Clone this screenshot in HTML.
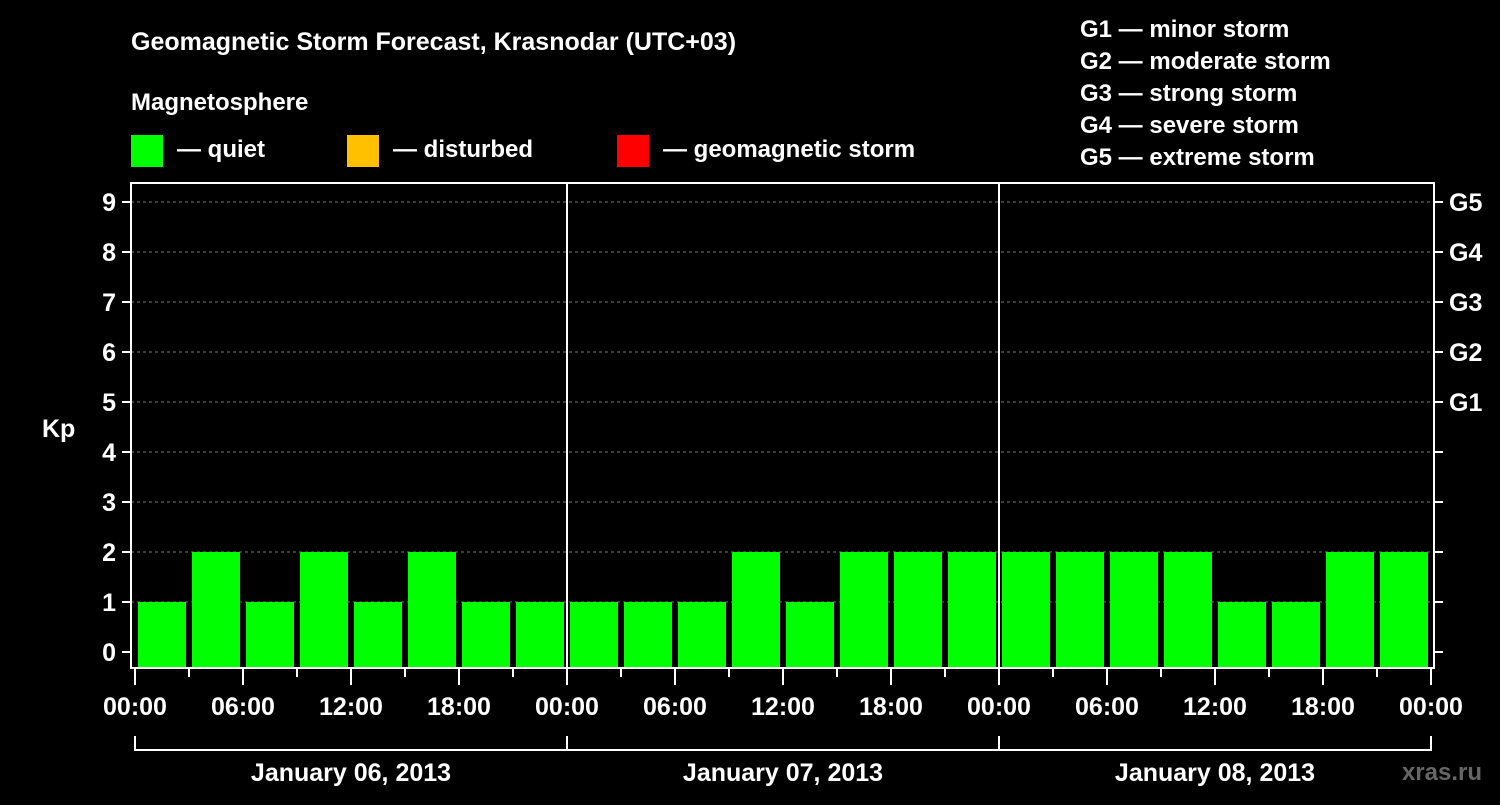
<!DOCTYPE html>
<html><head><meta charset="utf-8"><style>
body{margin:0;background:#000;width:1500px;height:800px;overflow:hidden;font-family:"Liberation Sans",Arial,sans-serif;}
svg text{font-family:"Liberation Sans",Arial,sans-serif;font-weight:bold;fill:#fff;}
</style></head><body>
<svg id="chart" width="1500" height="800">
<text x="131" y="50" font-size="25">Geomagnetic Storm Forecast, Krasnodar (UTC+03)</text>
<text x="131" y="110" font-size="24">Magnetosphere</text>
<g><rect x="131" y="135" width="32" height="32" fill="#00ff00"/><text x="177" y="157" font-size="24">— quiet</text></g>
<g><rect x="347" y="135" width="32" height="32" fill="#ffc000"/><text x="393" y="157" font-size="24">— disturbed</text></g>
<g><rect x="617" y="135" width="32" height="32" fill="#ff0000"/><text x="663" y="157" font-size="24">— geomagnetic storm</text></g>
<g font-size="24">
<text x="1080" y="37">G1 — minor storm</text>
<text x="1080" y="69">G2 — moderate storm</text>
<text x="1080" y="101">G3 — strong storm</text>
<text x="1080" y="133">G4 — severe storm</text>
<text x="1080" y="165">G5 — extreme storm</text>
</g>
<text x="42" y="437" font-size="25">Kp</text>
<text x="1500" y="780" font-size="24" fill="#555" style="fill:#666" text-anchor="end" dx="-18">xras.ru</text>
<g id="plot"></g>
</svg>
<script>
const kpValues=[1,2,1,2,1,2,1,1, 1,1,1,2,1,2,2,2, 2,2,2,2,1,1,2,2];
const dayLabels=["January 06, 2013","January 07, 2013","January 08, 2013"];
const hourLabels=["00:00","06:00","12:00","18:00"];
const yTicks=[0,1,2,3,4,5,6,7,8,9];
const gLabels=[[5,"G1"],[6,"G2"],[7,"G3"],[8,"G4"],[9,"G5"]];
const NS="http://www.w3.org/2000/svg";
const plot=document.getElementById('plot');
const L=131,R=1434,T=183,B=668,X0=135,slotW=54;
const x=i=>X0+i*slotW; const y=v=>652-v*50;
function mk(tag,attrs,parent){const e=document.createElementNS(NS,tag);for(const k in attrs)e.setAttribute(k,attrs[k]);(parent||plot).appendChild(e);return e;}
function color(v){return v>=5?"#ff0000":v>=4?"#ffc000":"#00ff00";}
yTicks.forEach(v=>{
 if(v>0){const g=mk('line',{x1:L,x2:R,y1:y(v),y2:y(v),stroke:'#777','stroke-dasharray':'3,3','stroke-width':1});
 
 }
 const t=mk('line',{x1:122,x2:L,y1:y(v),y2:y(v),stroke:'#fff','stroke-width':2});
 
 
 const rt=mk('line',{x1:R,x2:R+9,y1:y(v),y2:y(v),stroke:'#fff','stroke-width':2});
 
 
 const lb=mk('text',{x:116,y:y(v)+9,'font-size':25,'text-anchor':'end'});lb.textContent=v;
 
 
});
gLabels.forEach(([v,s])=>{const lb=mk('text',{x:1449,y:y(v)+9,'font-size':25});lb.textContent=s;
 
 });
kpValues.forEach((v,i)=>{
 const r=mk('rect',{x:x(i)+3,y:y(v),width:slotW-6,height:B-y(v),fill:color(v)});
 
 
});
[1,2].forEach(d=>{const l=mk('line',{x1:x(d*8),x2:x(d*8),y1:T,y2:B,stroke:'#fff','stroke-width':2});
 
 });
const fr=mk('rect',{x:L,y:T,width:R-L,height:B-T,fill:'none',stroke:'#fff','stroke-width':2});


for(let i=0;i<=24;i++){
 const major=i%2==0;
 const t=mk('line',{x1:x(i),x2:x(i),y1:B,y2:major?685:677,stroke:'#fff','stroke-width':2});
 
 
 if(major){const lb=mk('text',{x:x(i),y:715,'font-size':25,'text-anchor':'middle'});lb.textContent=hourLabels[(i/2)%4];
 
 }
}
const br=mk('path',{d:`M${x(0)} 736 V750 H${x(24)} V736 M${x(8)} 736 V750 M${x(16)} 736 V750`,stroke:'#fff','stroke-width':2,fill:'none'});


dayLabels.forEach((s,d)=>{const lb=mk('text',{x:x(d*8+4),y:781,'font-size':25,'text-anchor':'middle'});lb.textContent=s;
 
 });
</script>
</body></html>
